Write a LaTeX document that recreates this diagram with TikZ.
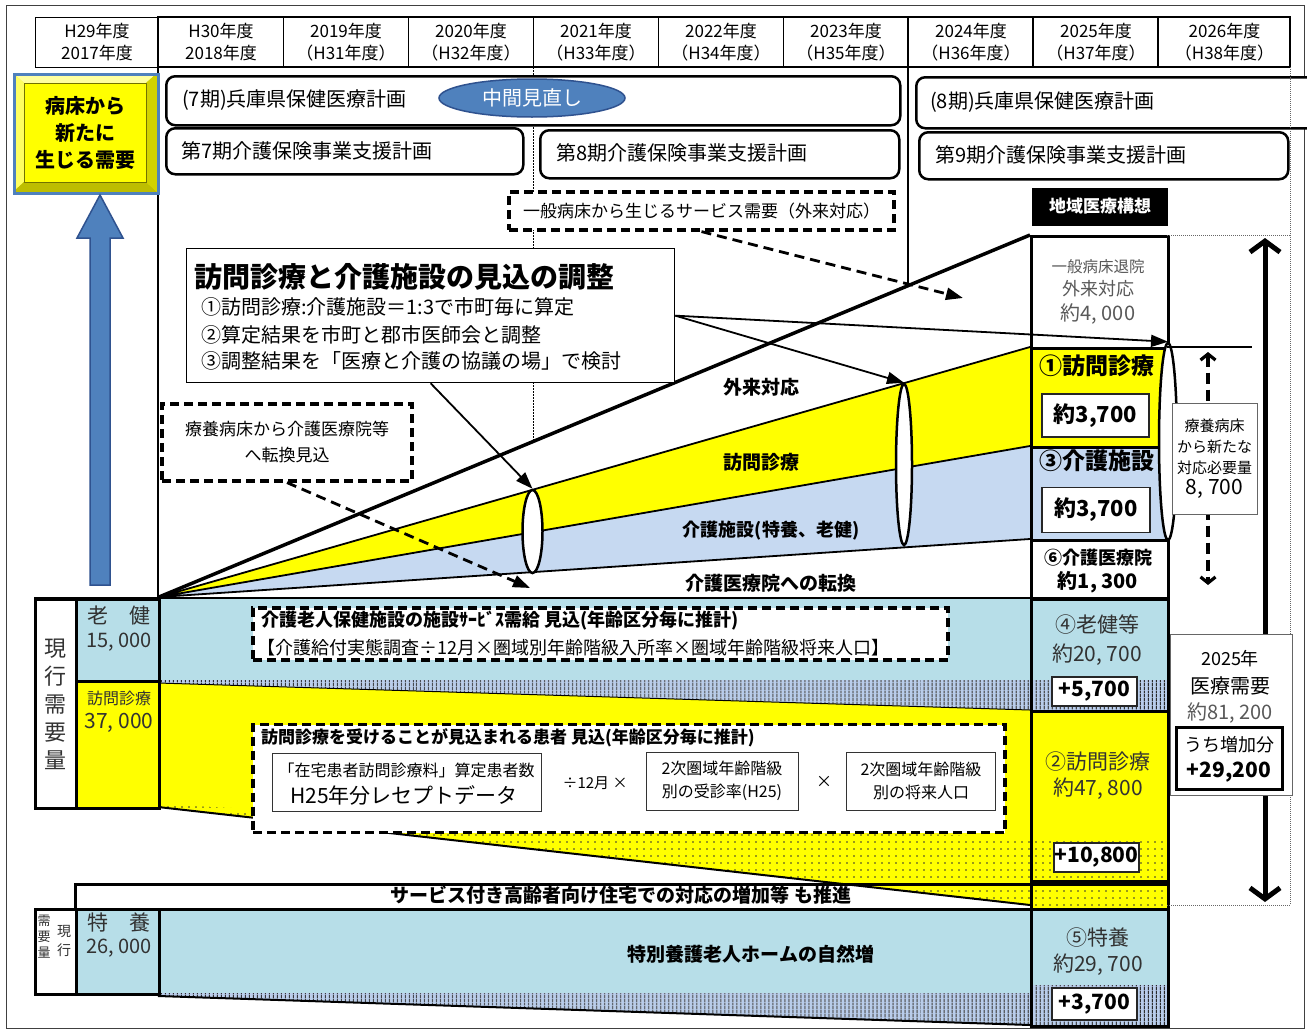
\documentclass[tikz,border=0pt]{standalone}
\usepackage{fontspec}
\setmainfont{Noto Sans CJK JP}
\usetikzlibrary{patterns.meta,arrows.meta,shapes.geometric}
\definecolor{yel}{RGB}{255,255,0}
\definecolor{yeldk}{RGB}{190,190,0}
\definecolor{yelmd}{RGB}{225,225,0}
\definecolor{yellt}{RGB}{255,255,160}
\definecolor{lblue}{RGB}{183,222,232}
\definecolor{fblue}{RGB}{198,217,241}
\definecolor{hblue}{RGB}{185,205,235}
\definecolor{sblue}{RGB}{79,129,189}
\definecolor{dblue}{RGB}{47,82,143}
\definecolor{gtxt}{RGB}{89,89,89}
\definecolor{dtxt}{RGB}{50,50,50}
\newcommand\fsz[2]{\fontsize{#1}{#2}\selectfont}
\newcommand\cm{,\kern0.22em}
\tikzset{
  txt/.style={inner sep=0pt, align=center},
  cellbox/.style={rectangle, inner sep=0pt, anchor=north west},
  rbox/.style={draw, line width=2.5pt, rounded corners=9pt, fill=white, inner sep=0pt},
  dbox/.style={draw, line width=3.2pt, dash pattern=on 9pt off 5pt, fill=white, inner sep=0pt},
  thinbox/.style={draw=black!80, line width=1pt, fill=white, inner sep=0pt},
  numbox/.style={draw=black!85, line width=1.3pt, fill=white, inner sep=0pt},
  ell/.style={ellipse, draw, line width=2.5pt, fill=white, inner sep=0pt},
  arr/.style={line width=1.8pt, -{Triangle[length=17pt,width=12pt]}},
  darr/.style={line width=2.8pt, dash pattern=on 10pt off 6pt, -{Triangle[length=17pt,width=12pt]}},
  hatchfill/.style={pattern={Lines[angle=90,distance=4pt,line width=1pt]}, pattern color=black!85},
  dotfill/.style={pattern={Dots[distance=7pt,radius=0.9pt]}, pattern color=black!80},
}
\begin{document}
\begin{tikzpicture}[x=1pt,y=-1pt]
\useasboundingbox (0,0) rectangle (1307,1031);
\fill[white] (0,0) rectangle (1307,1031);
\draw[line width=0.8pt, black!75] (6,5) rectangle (1304,1028);

% ---------- header ----------
\node[cellbox, align=center, draw, line width=1pt, minimum width=123pt, minimum height=50pt, font=\fsz{17}{22}] (h0) at (35,17) {H29年度\\2017年度};
\foreach \xx/\ww/\aa/\bb [count=\i] in {158/125/H30年度/2018年度, 283/125/2019年度/（H31年度）, 408/125/2020年度/（H32年度）, 533/125/2021年度/（H33年度）, 658/125/2022年度/（H34年度）, 783/125/2023年度/（H35年度）, 908/125/2024年度/（H36年度）, 1033/125/2025年度/（H37年度）, 1158/132/2026年度/（H38年度）}{
  \node[cellbox, align=center, draw, line width=1pt, minimum width=\ww pt, minimum height=50pt, font=\fsz{17}{22}] (h\i) at (\xx,17) {\aa\\\bb};
}
\draw[line width=2.5pt] (158,17) rectangle (1290,67);
\draw[line width=2.5pt] (908,17)--(908,67);
\draw[line width=1.8pt] (1033,17)--(1033,67) (1158,17)--(1158,67);

% ---------- vertical guide lines ----------
\draw[line width=2.5pt] (158,67)--(158,598);
\draw[line width=1.2pt] (908,67)--(908,286);
\draw[line width=1pt, dash pattern=on 1.5pt off 1.5pt] (533,67)--(533,442);

% ---------- plan boxes ----------
\node[rbox, cellbox, minimum width=734pt, minimum height=49pt] (p7) at (165,75) {};
\node[txt, anchor=west, font=\fsz{20}{24}] (p7t) at (182,100) {(7期)兵庫県保健医療計画};
\node[ellipse, draw=dblue, line width=1.5pt, fill=sblue, minimum width=186pt, minimum height=38pt, inner sep=0pt, text=white, font=\fsz{20}{24}] (mid) at (532,98) {中間見直し};
\node[rbox, cellbox, minimum width=410pt, minimum height=51pt] (p8) at (915,76) {};
\node[txt, anchor=west, font=\fsz{20}{24}] (p8t) at (930,102) {(8期)兵庫県保健医療計画};
\node[rbox, cellbox, minimum width=357pt, minimum height=46pt] (k7) at (165,127) {};
\node[txt, anchor=west, font=\fsz{20}{24}] (k7t) at (181,151) {第7期介護保険事業支援計画};
\node[rbox, cellbox, minimum width=359pt, minimum height=48pt] (k8) at (539,129) {};
\node[txt, anchor=west, font=\fsz{20}{24}] (k8t) at (556,153) {第8期介護保険事業支援計画};
\node[rbox, cellbox, minimum width=369pt, minimum height=47pt] (k9) at (918,131) {};
\node[txt, anchor=west, font=\fsz{20}{24}] (k9t) at (935,155) {第9期介護保険事業支援計画};

% ---------- yellow bevel box and blue arrow ----------
\fill[yelmd] (13,73) rectangle (157,192);
\fill[yellt] (13,73)--(157,73)--(146,83)--(24,83)--cycle;
\fill[yellt!60!yel] (13,73)--(24,83)--(24,182)--(13,192)--cycle;
\fill[yeldk] (13,192)--(24,182)--(146,182)--(157,192)--cycle;
\fill[yeldk!70!yel] (157,73)--(146,83)--(146,182)--(157,192)--cycle;
\node[cellbox, draw=sblue, line width=3pt, minimum width=144pt, minimum height=119pt] (yb) at (13,73) {};
\node[cellbox, draw=yeldk!60!black, line width=0.6pt, fill=yel, minimum width=122pt, minimum height=99pt, align=center, font=\fsz{20}{27}\bfseries] (ybi) at (24,83) {病床から\\新たに\\生じる需要};
\draw[fill=sblue, draw=dblue, line width=1.5pt] (90,585)--(90,238)--(77,238)--(100,195)--(123,238)--(110,238)--(110,585)--cycle;

% ---------- top dashed box, label ----------
\node[dbox, minimum width=385pt, minimum height=38pt, font=\fsz{17}{20}] (gen) at (701.5,211) {一般病床から生じるサービス需要（外来対応）};
\node[fill=black, text=white, minimum width=136pt, minimum height=38pt, inner sep=0pt, font=\fsz{17}{20}\bfseries] (chiiki) at (1100,206.5) {地域医療構想};

% ---------- fan ----------
\coordinate (apex) at (159,597);
\fill[yel] (apex)--(1030,347)--(1030,446)--cycle;
\fill[fblue] (apex)--(1030,446)--(1030,539)--cycle;
\draw[line width=1.8pt] (apex)--(1030,347) (apex)--(1030,446) (apex)--(1030,539);
\draw[line width=3.5pt] (apex)--(1030,235);

% ---------- column fills ----------
\fill[white] (1030,235) rectangle (1167,347);
\fill[yel] (1030,347) rectangle (1167,446);
\fill[fblue] (1030,446) rectangle (1167,539);
\fill[white] (1030,539) rectangle (1167,598);

% ---------- lower bands ----------
\fill[lblue] (158,598) rectangle (1167,680);
\fill[hblue] (158,680)--(1167,680)--(1167,710)--(1030,710)--(158,683)--cycle;
\fill[hatchfill] (158,680)--(1167,680)--(1167,710)--(1030,710)--(158,683)--cycle;
\fill[yel] (158,683)--(1030,710)--(1167,710)--(1167,908)--(1030,908)--(1030,905)--(158,807)--cycle;
\fill[dotfill] (158,805)--(1030,838)--(1167,838)--(1167,908)--(1030,908)--(1030,905)--(158,807)--cycle;
\draw[line width=1pt] (158,683)--(1030,710);
\draw[line width=2pt] (158,807)--(1030,905);
\fill[lblue] (158,908) rectangle (1167,993);
\fill[hblue] (158,993)--(1030,993)--(1030,985)--(1167,985)--(1167,1025)--(1030,1025)--(158,996)--cycle;
\fill[hatchfill] (158,993)--(1030,993)--(1030,985)--(1167,985)--(1167,1025)--(1030,1025)--(158,996)--cycle;
\draw[line width=2pt] (158,996)--(1030,1025);

% ---------- column cells ----------
\node[cellbox, draw, line width=2.5pt, minimum width=137pt, minimum height=112pt] (c0) at (1030,235) {};
\node[cellbox, draw, line width=2.5pt, minimum width=137pt, minimum height=99pt] (c1) at (1030,347) {};
\node[cellbox, draw, line width=2.5pt, minimum width=137pt, minimum height=93pt] (c2) at (1030,446) {};
\node[cellbox, draw, line width=2.5pt, minimum width=137pt, minimum height=59pt] (c3) at (1030,539) {};
\node[cellbox, draw, line width=2.5pt, minimum width=137pt, minimum height=112pt] (c4) at (1030,598) {};
\node[cellbox, draw, line width=2.5pt, minimum width=137pt, minimum height=170pt] (c5) at (1030,710) {};
\node[cellbox, draw, line width=2.5pt, minimum width=137pt, minimum height=28pt] (c6) at (1030,880) {};
\node[cellbox, draw, line width=2.5pt, minimum width=137pt, minimum height=117pt] (c7) at (1030,908) {};

% ---------- left cells ----------
\node[cellbox, draw, line width=2.5pt, fill=white, minimum width=41pt, minimum height=209pt] (L1) at (34,598) {};
\node[cellbox, draw, line width=2.5pt, fill=lblue, minimum width=83pt, minimum height=82pt] (L2) at (75,598) {};
\node[cellbox, draw, line width=2.5pt, fill=yel, minimum width=83pt, minimum height=127pt] (L3) at (75,680) {};
\node[cellbox, draw, line width=2.5pt, fill=white, minimum width=41pt, minimum height=85pt] (L4) at (34,908) {};
\node[cellbox, draw, line width=2.5pt, fill=lblue, minimum width=83pt, minimum height=85pt] (L5) at (75,908) {};
\draw[line width=2.5pt] (L1.north west)--(c4.north east);

% ---------- band ----------
\node[cellbox, draw, line width=2.5pt, minimum width=1093pt, minimum height=25pt] (band) at (74,883) {};

% ---------- lower dashed boxes ----------
\node[dbox, minimum width=695pt, minimum height=52pt] (dk1) at (600.5,634) {};
\node[txt, anchor=west, font=\fsz{18}{21}\bfseries] (dk1a) at (261,621) {介護老人保健施設の施設ｻｰﾋﾞｽ需給 見込(年齢区分毎に推計)};
\node[txt, anchor=west, font=\fsz{18}{21}] (dk1b) at (257,648) {【介護給付実態調査÷12月×圏域別年齢階級入所率×圏域年齢階級将来人口】};
\node[dbox, minimum width=752pt, minimum height=108pt] (dk2) at (629,778.5) {};
\node[txt, anchor=west, font=\fsz{17}{20}\bfseries] (dk2a) at (261,738) {訪問診療を受けることが見込まれる患者 見込(年齢区分毎に推計)};
\node[thinbox, minimum width=269pt, minimum height=58pt] (ib1) at (406.5,782) {};
\node[txt, font=\fsz{16}{19}] (ib1a) at (406.5,770) {「在宅患者訪問診療料」算定患者数};
\node[txt, font=\fsz{21}{24}] (ib1b) at (404,795) {H25年分レセプトデータ};
\node[txt, font=\fsz{15}{18}] (div) at (595,783) {÷12月 ×};
\node[thinbox, minimum width=152pt, minimum height=58pt, align=center, font=\fsz{16}{23}] (ib2) at (722,781) {2次圏域年齢階級\\別の受診率(H25)};
\node[txt, font=\fsz{16}{18}] (mul) at (824,782) {×};
\node[thinbox, minimum width=149pt, minimum height=58pt, align=center, font=\fsz{16}{23}] (ib3) at (921,781) {2次圏域年齢階級\\別の将来人口};

% ---------- ellipses ----------
\node[ell, minimum width=20pt, minimum height=83pt] (e1) at (532.5,531.5) {};
\node[ell, minimum width=16pt, minimum height=161pt] (e2) at (904,464.5) {};
\node[ell, minimum width=18pt, minimum height=197pt] (e3) at (1168,441.5) {};

% ---------- title box and left dashed box ----------
\node[cellbox, draw, line width=1.3pt, fill=white, minimum width=488pt, minimum height=134pt] (ttl) at (186,248) {};
\node[txt, anchor=west, font=\fsz{28}{32}\bfseries] (ttl0) at (194,277) {訪問診療と介護施設の見込の調整};
\node[txt, anchor=west, font=\fsz{20}{23}] (ttl1) at (201,307) {①訪問診療:介護施設＝1:3で市町毎に算定};
\node[txt, anchor=west, font=\fsz{20}{23}] (ttl2) at (201,335) {②算定結果を市町と郡市医師会と調整};
\node[txt, anchor=west, font=\fsz{20}{23}] (ttl3) at (201,361) {③調整結果を「医療と介護の協議の場」で検討};
\node[dbox, minimum width=250pt, minimum height=77pt, align=center, font=\fsz{17}{26}] (ryo) at (287,442.5) {療養病床から介護医療院等\\へ転換見込};

% ---------- arrows ----------
\coordinate (tip1) at (530,588);
\coordinate (tip2) at (963,298);
\draw[arr] (ttl.south) -- (e1.north);
\draw[arr] (ttl.east) -- (e2.north);
\draw[arr] (ttl.east) -- (e3.north);
\draw[darr] (ryo.south) -- (tip1);
\draw[darr] (gen.south) -- (tip2);

% ---------- right side ----------
\draw[line width=1pt, black!60, dash pattern=on 1pt off 1pt] (1167,235)--(1290,235) (1290,67)--(1290,905) (1167,905)--(1290,905);
\draw[line width=1.3pt] (1167,347)--(1252,347);
\coordinate (ba1) at (1265,238);
\coordinate (ba2) at (1265,902);
\draw[line width=5pt, {Straight Barb[length=11pt,width=30pt]}-{Straight Barb[length=11pt,width=30pt]}] (ba1)--(ba2);
\coordinate (da1) at (1208,352);
\coordinate (da2) at (1208,585);
\draw[line width=3.2pt, dash pattern=on 11pt off 6pt, {Straight Barb[length=6pt,width=15pt]}-{Straight Barb[length=6pt,width=15pt]}] (da1)--(da2);
\node[thinbox, draw=black!60, minimum width=85pt, minimum height=111pt, align=center, font=\fsz{15}{21}] (rb) at (1214.5,458.5) {療養病床\\から新たな\\対応必要量\\\fsz{21}{26}8\cm 700};
\node[thinbox, draw=black!60, minimum width=122pt, minimum height=161pt] (d25) at (1231,714.5) {};
\node[txt, font=\fsz{18}{21}] (t25a) at (1230,659) {2025年};
\node[txt, font=\fsz{20}{23}] (t25b) at (1230,686) {医療需要};
\node[txt, font=\fsz{20}{23}, text=gtxt] (t25c) at (1230,713) {約81\cm 200};
\node[draw, line width=3pt, fill=white, minimum width=106pt, minimum height=62pt, inner sep=0pt] (inc) at (1229,758) {};
\node[txt, font=\fsz{18}{21}] (inca) at (1229,745) {うち増加分};
\node[txt, font=\fsz{21}{24}\bfseries] (incb) at (1229,772) {+29,200};

% ---------- fan labels ----------
\node[txt, font=\fsz{19}{22}\bfseries] (fl1) at (761,387) {外来対応};
\node[txt, font=\fsz{19}{22}\bfseries] (fl2) at (761,462) {訪問診療};
\node[txt, font=\fsz{18}{21}\bfseries] (fl3) at (771,531) {介護施設(特養、老健)};
\node[txt, font=\fsz{19}{22}\bfseries] (fl4) at (771,583) {介護医療院への転換};

% ---------- column texts ----------
\node[txt, font=\fsz{15.5}{18}, text=gtxt] (c0a) at (1098,267) {一般病床退院};
\node[txt, font=\fsz{18}{21}, text=gtxt] (c0b) at (1098,289) {外来対応};
\node[txt, font=\fsz{20}{23}, text=gtxt] (c0c) at (1098,314) {約4\cm 000};
\node[txt, font=\fsz{23}{26}\bfseries] (c1a) at (1097,366) {①訪問診療};
\node[numbox, minimum width=107pt, minimum height=43pt, font=\fsz{22}{25}\bfseries] (n1) at (1095.5,415.5) {約3,700};
\node[txt, font=\fsz{23}{26}\bfseries] (c2a) at (1097,461) {③介護施設};
\node[numbox, minimum width=108pt, minimum height=45pt, font=\fsz{22}{25}\bfseries] (n2) at (1096,510) {約3,700};
\node[txt, font=\fsz{18}{21}\bfseries] (c3a) at (1098,558) {⑥介護医療院};
\node[txt, font=\fsz{20}{23}\bfseries] (c3b) at (1098,582) {約1\cm 300};
\node[txt, font=\fsz{21}{24}, text=dtxt] (c4a) at (1097,625) {④老健等};
\node[txt, font=\fsz{21}{24}, text=dtxt] (c4b) at (1097,655) {約20\cm 700};
\node[numbox, minimum width=85pt, minimum height=29pt, font=\fsz{21}{24}\bfseries] (n4) at (1094.5,691.5) {+5,700};
\node[txt, font=\fsz{21}{24}, text=dtxt] (c5a) at (1098,762) {②訪問診療};
\node[txt, font=\fsz{21}{24}, text=dtxt] (c5b) at (1098,789) {約47\cm 800};
\node[numbox, minimum width=85pt, minimum height=29pt, font=\fsz{21}{24}\bfseries] (n5) at (1096.5,857.5) {+10,800};
\node[txt, font=\fsz{21}{24}, text=dtxt] (c7a) at (1098,938) {⑤特養};
\node[txt, font=\fsz{21}{24}, text=dtxt] (c7b) at (1098,965) {約29\cm 700};
\node[numbox, minimum width=85pt, minimum height=32pt, font=\fsz{21}{24}\bfseries] (n6) at (1094.5,1004) {+3,700};

% ---------- left texts ----------
\node[txt, font=\fsz{22}{28}, text=dtxt] (L1t) at (55,704) {現\\行\\需\\要\\量};
\node[txt, font=\fsz{21}{24}, text=dtxt] (L2a) at (119,615) {老　健};
\node[txt, font=\fsz{20}{23}, text=dtxt] (L2n) at (119,642) {15\cm 000};
\node[txt, font=\fsz{16}{19}, text=dtxt] (L3a) at (119,698) {訪問診療};
\node[txt, font=\fsz{21}{24}, text=dtxt] (L3n) at (119,723) {37\cm 000};
\node[txt, font=\fsz{13}{16}, text=dtxt] (L4a) at (44,937) {需\\要\\量};
\node[txt, font=\fsz{14}{19}, text=dtxt] (L4b) at (64,941) {現\\行};
\node[txt, font=\fsz{21}{24}, text=dtxt] (L5a) at (119,922) {特　養};
\node[txt, font=\fsz{20}{23}, text=dtxt] (L5n) at (119,948) {26\cm 000};

% ---------- band texts ----------
\node[txt, font=\fsz{19}{22}\bfseries] (bandt) at (621,895) {サービス付き高齢者向け住宅での対応の増加等 も推進};
\node[txt, font=\fsz{19}{22}\bfseries] (tokut) at (751,954) {特別養護老人ホームの自然増};
\end{tikzpicture}
\end{document}
